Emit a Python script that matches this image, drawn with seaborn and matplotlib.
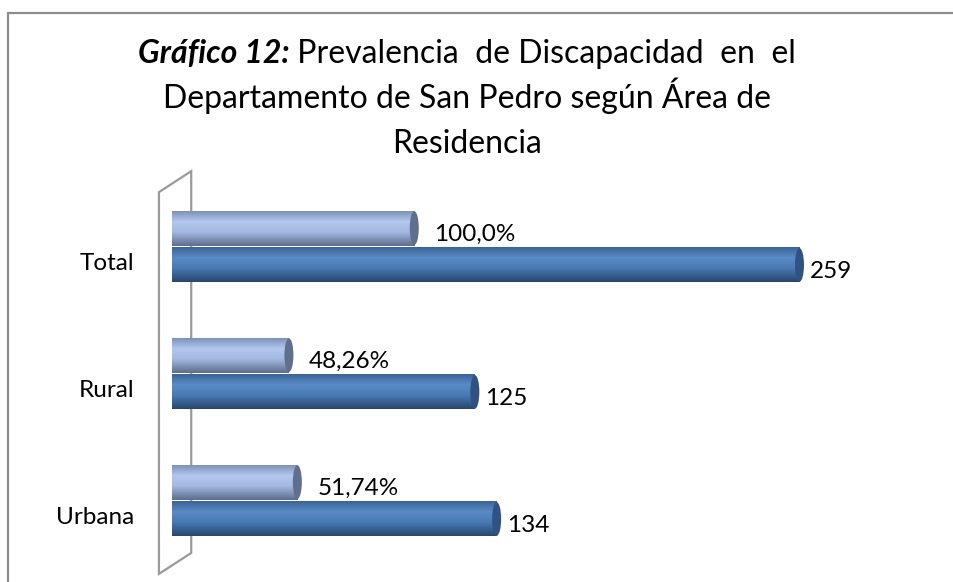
import matplotlib
matplotlib.use("Agg")
import matplotlib.pyplot as plt
import numpy as np
import pandas as pd
import seaborn as sns
from matplotlib.colors import LinearSegmentedColormap
from matplotlib.lines import Line2D
from matplotlib.patches import Ellipse, Polygon
from matplotlib.transforms import ScaledTranslation

areas = ["Total", "Rural", "Urbana"]
series = ["Porcentaje", "Casos"]
porcentajes = [100.0, 48.26, 51.74]
casos = [259, 125, 134]
etiquetas_pct = ["100,0%", "48,26%", "51,74%"]
etiquetas_casos = ["259", "125", "134"]

TITLE_BOLD = "Gráfico 12:"
TITLE_REST = " Prevalencia  de Discapacidad  en  el"
TITLE_LINES = ["Departamento de San Pedro según Área de", "Residencia"]

FONT = "Lato"
LIGHT = ["#7e92b8", "#b3c8ee", "#a3b9e2", "#5e6d8c"]
DARK = ["#3b6496", "#5a8bc6", "#4a7ab4", "#27476f"]
CAP = {"Porcentaje": "#5f6f90", "Casos": "#2d5283"}

df = pd.DataFrame({
    "area": areas * 2,
    "serie": [series[0]] * 3 + [series[1]] * 3,
    "valor": porcentajes + casos,
})

sns.set_style("white")
plt.rcParams["font.family"] = [FONT, "DejaVu Sans"]

fig = plt.figure(figsize=(9.54, 5.82), dpi=100)
ax = fig.add_axes([172 / 954, 18 / 582, 768 / 954, 381 / 582])

sns.barplot(data=df, x="valor", y="area", hue="serie", order=areas, hue_order=series,
            orient="h", palette=[LIGHT[2], DARK[2]], width=0.58, gap=0.05,
            edgecolor="none", legend=False, ax=ax)

ax.set_xlim(0, 317)
ax.set_ylim(2.5, -0.5)
ax.set_xlabel("")
ax.set_ylabel("")
ax.set_xticks([])
for s in ax.spines.values():
    s.set_visible(False)
ax.tick_params(axis="y", length=0, pad=27, labelsize=17.5, labelcolor="black")
for lab in ax.get_yticklabels():
    lab.set_transform(lab.get_transform() + ScaledTranslation(0, -0.15, fig.dpi_scale_trans))

# cylinder shading: vertical gradient clipped to each bar + end cap
grad = np.linspace(0, 1, 64).reshape(-1, 1)
cmaps = {
    "Porcentaje": LinearSegmentedColormap.from_list("l", [(0, LIGHT[0]), (0.3, LIGHT[1]), (0.6, LIGHT[2]), (1, LIGHT[3])]),
    "Casos": LinearSegmentedColormap.from_list("d", [(0, DARK[0]), (0.3, DARK[1]), (0.6, DARK[2]), (1, DARK[3])]),
}
px = 317 / 768
for container, serie in zip(ax.containers, series):
    for bar in container:
        x0, y0 = bar.get_x(), bar.get_y()
        w, h = bar.get_width(), bar.get_height()
        im = ax.imshow(grad, cmap=cmaps[serie], aspect="auto",
                       extent=(x0, x0 + w, y0 + h, y0), zorder=2)
        im.set_clip_path(bar)
        ax.add_patch(Ellipse((x0 + w, y0 + h / 2), 9 * px, h * 0.96,
                             facecolor=CAP[serie], edgecolor="none", zorder=3))
ax.set_xlim(0, 317)
ax.set_ylim(2.5, -0.5)

# data labels
for bar, txt in zip(ax.containers[0], etiquetas_pct):
    ax.annotate(txt, (bar.get_x() + bar.get_width(), bar.get_y() + bar.get_height() / 2),
                xytext=(20, -6), textcoords="offset pixels", va="center", ha="left",
                fontsize=17.5, color="black", zorder=4)
for bar, txt in zip(ax.containers[1], etiquetas_casos):
    ax.annotate(txt, (bar.get_x() + bar.get_width(), bar.get_y() + bar.get_height() / 2),
                xytext=(10, -7), textcoords="offset pixels", va="center", ha="left",
                fontsize=17.5, color="black", zorder=4)

# 3D wall outline
wall = Polygon([(-0.017, -0.026), (-0.017, 0.976), (0.025, 1.031), (0.025, 0.029)],
               closed=True, fill=False, edgecolor="#9a9a9a", linewidth=1.6,
               transform=ax.transAxes, clip_on=False, zorder=1)
ax.add_patch(wall)

# chart frame (top and left edges visible)
fig.add_artist(Line2D([8.5 / 954, 1], [1 - 12.5 / 582] * 2, color="#8c8c8c", lw=1.6))
fig.add_artist(Line2D([8.5 / 954] * 2, [0, 1 - 12.5 / 582], color="#8c8c8c", lw=1.6))

# title
cx = 467 / 954
renderer = fig.canvas.get_renderer()
t1 = fig.text(0, 1 - 63 / 582, TITLE_BOLD, fontsize=23, fontweight="bold", fontstyle="italic",
              va="baseline", color="black")
t2 = fig.text(0, 1 - 63 / 582, TITLE_REST, fontsize=23, va="baseline", color="black")
w1 = t1.get_window_extent(renderer).width / fig.bbox.width
w2 = t2.get_window_extent(renderer).width / fig.bbox.width
start = cx - (w1 + w2) / 2
t1.set_x(start)
t2.set_x(start + w1)
for i, line in enumerate(TITLE_LINES):
    fig.text(cx, 1 - (108 + 45 * i) / 582, line, fontsize=23, ha="center", va="baseline", color="black")

fig.savefig("out.png", dpi=100)
